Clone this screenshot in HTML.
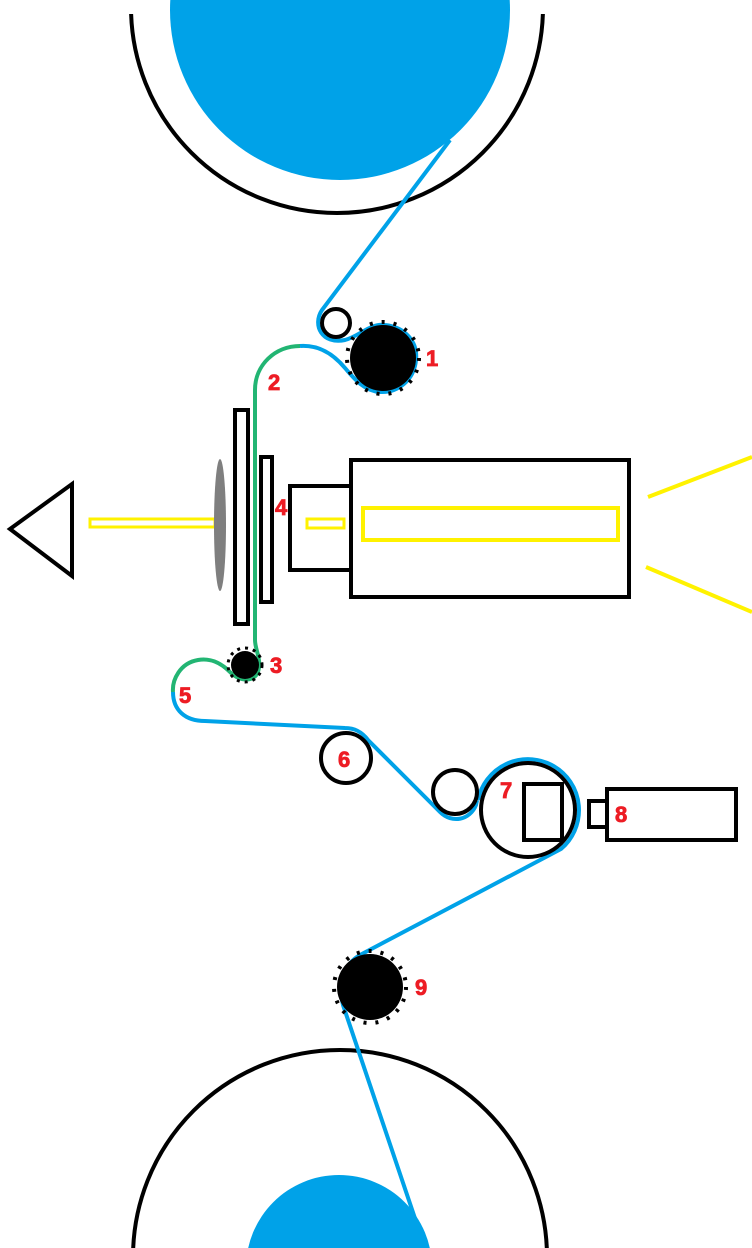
<!DOCTYPE html>
<html><head><style>html,body{margin:0;padding:0;background:#fff;overflow:hidden;width:752px;height:1248px}svg{display:block}</style></head><body>
<svg width="752" height="1248" viewBox="0 0 752 1248" xmlns="http://www.w3.org/2000/svg" font-family="Liberation Sans, sans-serif">
<defs><clipPath id="c"><rect x="0" y="14" width="752" height="400"/></clipPath></defs>
<circle cx="337" cy="7" r="206" fill="none" stroke="#000" stroke-width="4" clip-path="url(#c)"/>
<circle cx="340" cy="10" r="170" fill="#00a2e8"/>
<circle cx="340" cy="1257" r="207" fill="none" stroke="#000" stroke-width="4"/>
<circle cx="339" cy="1268" r="93" fill="#00a2e8"/>
<path d="M450,140 L322,310 C312,325 322,345 345,340 C360,336 370,323 385,325 C405,327 418,342 416,360 C414,380 398,393 380,392 C365,391 355,380 345,368 C330,350 315,345 300,346" fill="none" stroke="#00a2e8" stroke-width="4"/>
<path d="M300,346 C275,346 255,365 255,390 L255,640 C255,650 262,660 258,672 C254,682 240,682 230,672 C220,662 210,658 198,660 C180,663 172,680 173,692" fill="none" stroke="#22b573" stroke-width="4"/>
<path d="M173,692 C173,710 185,721 205,721 L345,728 C355,728 362,732 368,740 L440,812 C452,824 470,820 476,805 C478,795 478,800 478,800 A51,51 0 1 1 561,849 L360,955 C343,965 338,985 343,1005 L425,1248" fill="none" stroke="#00a2e8" stroke-width="4"/>
<circle cx="336" cy="323" r="14" fill="none" stroke="#000" stroke-width="4"/>
<circle cx="383" cy="358" r="33" fill="#000"/>
<circle cx="383" cy="358" r="36" fill="none" stroke="#000" stroke-width="4" stroke-dasharray="3 9"/>
<circle cx="245" cy="665" r="14" fill="#000"/>
<circle cx="245" cy="665" r="17" fill="none" stroke="#000" stroke-width="3" stroke-dasharray="3 5"/>
<circle cx="370" cy="987" r="33" fill="#000"/>
<circle cx="370" cy="987" r="36" fill="none" stroke="#000" stroke-width="4" stroke-dasharray="3 9"/>
<circle cx="346" cy="758" r="25" fill="none" stroke="#000" stroke-width="4"/>
<circle cx="455" cy="792" r="22" fill="none" stroke="#000" stroke-width="4"/>
<circle cx="528" cy="810" r="47" fill="none" stroke="#000" stroke-width="4"/>
<rect x="524" y="784" width="38" height="56" fill="none" stroke="#000" stroke-width="4"/>
<rect x="589" y="801" width="18" height="26" fill="none" stroke="#000" stroke-width="4"/>
<rect x="607" y="789" width="129" height="51" fill="none" stroke="#000" stroke-width="4"/>
<rect x="235" y="410" width="13" height="214" fill="none" stroke="#000" stroke-width="4"/>
<rect x="261" y="457" width="11" height="145" fill="none" stroke="#000" stroke-width="4"/>
<rect x="290" y="486" width="61" height="84" fill="none" stroke="#000" stroke-width="4"/>
<rect x="351" y="460" width="278" height="137" fill="none" stroke="#000" stroke-width="4"/>
<rect x="363" y="508" width="255" height="32" fill="none" stroke="#fff200" stroke-width="4"/>
<rect x="307" y="519" width="37" height="9" fill="none" stroke="#fff200" stroke-width="3"/>
<line x1="648" y1="497" x2="752" y2="457" stroke="#fff200" stroke-width="4"/>
<line x1="646" y1="567" x2="752" y2="612" stroke="#fff200" stroke-width="4"/>
<rect x="90" y="519" width="125" height="8" fill="none" stroke="#fff200" stroke-width="3"/>
<ellipse cx="220" cy="525" rx="6" ry="66" fill="#7f7f7f"/>
<polygon points="10,529 72,484 72,576" fill="none" stroke="#000" stroke-width="4"/>
<g fill="#ed1c24" stroke="#ed1c24" stroke-width="0.8" font-weight="bold" font-size="22">
<text x="426" y="366">1</text><text x="268" y="390">2</text><text x="270" y="673">3</text>
<text x="275" y="515">4</text><text x="179" y="703">5</text><text x="338" y="767">6</text>
<text x="500" y="798">7</text><text x="615" y="822">8</text><text x="415" y="995">9</text>
</g>
</svg>
</body></html>
